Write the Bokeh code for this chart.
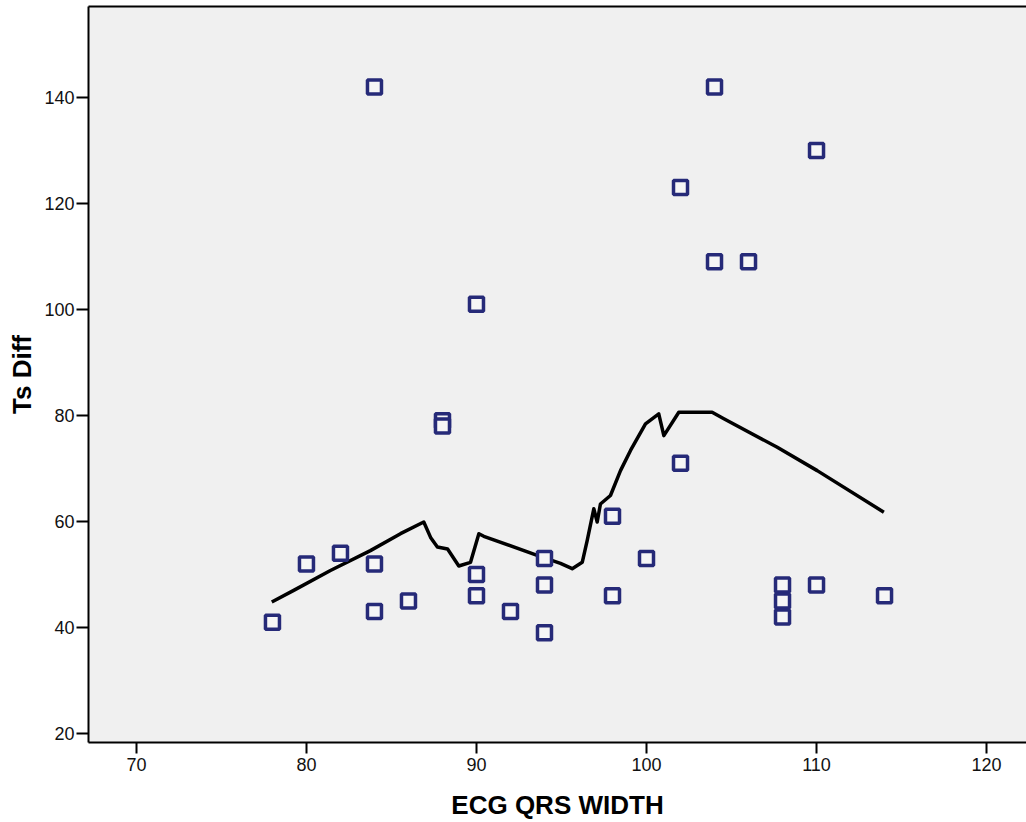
from bokeh.plotting import figure
from bokeh.models import LinearAxis, FixedTicker, Range1d
from bokeh.embed import file_html
from bokeh.resources import INLINE

# Scatter data: ECG QRS width vs Ts Diff
qrs_width = [78, 80, 82, 84, 84, 84, 86, 88, 88, 90, 90, 90, 92, 94, 94, 94,
             98, 98, 100, 102, 102, 104, 104, 106, 108, 108, 108, 110, 110, 114]
ts_diff = [41, 52, 54, 142, 52, 43, 45, 79, 78, 101, 50, 46, 43, 53, 48, 39,
           61, 46, 53, 123, 71, 142, 109, 109, 48, 45, 42, 130, 48, 46]

# Fit line (loess-like)
fit_x = [77.96, 79.25, 81.41, 83.76, 85.53, 86.9, 87.3, 87.7, 88.3, 88.96, 89.65,
         90.14, 90.43, 93.57, 94.94, 95.63, 96.22, 96.51, 96.9, 97.1, 97.29, 97.88,
         98.47, 99.06, 99.94, 100.72, 101.02, 101.9, 103.86, 104.55, 107.69, 110.04, 113.96]
fit_y = [44.8, 47.0, 50.75, 54.5, 57.7, 59.9, 57.0, 55.2, 54.8, 51.6, 52.3,
         57.7, 57.2, 53.6, 52.1, 51.1, 52.3, 56.4, 62.4, 59.9, 63.3, 64.9,
         69.6, 73.4, 78.4, 80.3, 76.2, 80.6, 80.6, 79.4, 74.0, 69.6, 61.75]

x_ticks = [70, 80, 90, 100, 110, 120]
y_ticks = [20, 40, 60, 80, 100, 120, 140]

p = figure(width=1026, height=822, output_backend="svg", toolbar_location=None,
           x_range=Range1d(67.18, 122.35), y_range=Range1d(18.3, 157.17),
           min_border_left=88, min_border_right=0, min_border_top=6, min_border_bottom=80,
           background_fill_color="#f0f0f0", border_fill_color="white")
p.outline_line_color = None
p.grid.visible = False

p.line(fit_x, fit_y, line_color="black", line_width=3.5, line_join="round")
p.scatter(qrs_width, ts_diff, marker="square", size=14, line_color="#262a78",
          line_width=3.5, fill_color="#f6f6f6")

for ax in (p.xaxis[0], p.yaxis[0]):
    ax.axis_line_color = "black"
    ax.axis_line_width = 2
    ax.major_tick_line_color = "black"
    ax.major_tick_line_width = 2
    ax.major_tick_in = 0
    ax.minor_tick_line_color = None
    ax.major_label_text_font = "Liberation Sans"
    ax.major_label_text_font_size = "18px"
    ax.major_label_text_color = "#111111"
    ax.axis_label_text_font = "Liberation Sans"
    ax.axis_label_text_font_size = "26px"
    ax.axis_label_text_font_style = "bold"
    ax.axis_label_text_color = "black"

p.xaxis.ticker = FixedTicker(ticks=x_ticks)
p.yaxis.ticker = FixedTicker(ticks=y_ticks)
p.xaxis.major_tick_out = 11
p.yaxis.major_tick_out = 12
p.xaxis.major_label_standoff = 4
p.yaxis.major_label_standoff = 2
p.xaxis.axis_label = "ECG QRS WIDTH"
p.yaxis.axis_label = "Ts Diff"
p.xaxis.axis_label_standoff = 16
p.yaxis.axis_label_standoff = 4

top = LinearAxis(ticker=FixedTicker(ticks=[]), axis_line_color="black", axis_line_width=2,
                 major_tick_out=0, major_tick_in=0, major_label_standoff=0,
                 major_label_text_font_size="0px", minor_tick_line_color=None)
p.add_layout(top, "above")

open("out.html", "w").write(file_html(p, INLINE))
